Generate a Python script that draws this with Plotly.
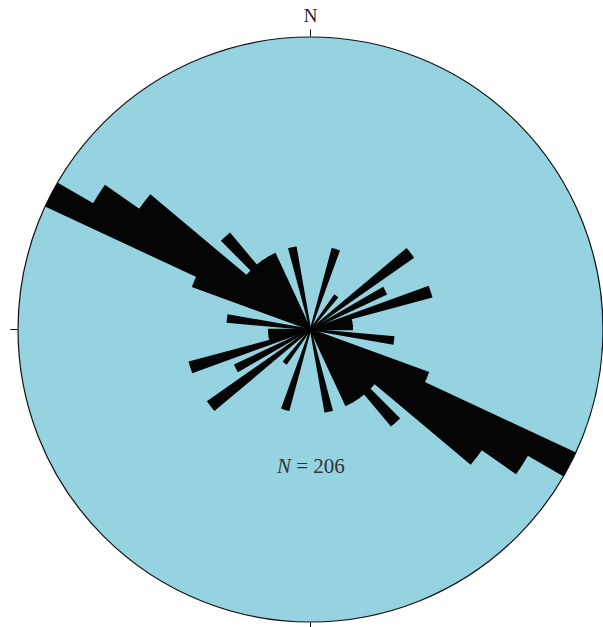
import plotly.graph_objects as go

# Axial rose diagram: 5-degree bins over 0-180, each plotted in both directions
bin_centers = [2.5, 7.5, 12.5, 17.5, 22.5, 27.5, 32.5, 37.5, 42.5, 47.5,
               52.5, 57.5, 62.5, 67.5, 72.5, 77.5, 82.5, 87.5, 92.5, 97.5,
               102.5, 107.5, 112.5, 117.5, 122.5, 127.5, 132.5, 137.5, 142.5, 147.5,
               152.5, 157.5, 162.5, 167.5, 172.5, 177.5]
percent = [0, 0, 0, 2, 0, 0, 0, 1, 0, 0,
           3, 0, 2, 0, 3, 1, 1, 1, 0, 2,
           0, 0, 3, 7, 6, 5, 2, 3, 2, 2,
           2, 0, 0, 2, 0, 0]
n_total = 206
bin_width = 5
r_max = 7

theta = bin_centers + [c + 180 for c in bin_centers]
r = percent + percent

fig = go.Figure()
fig.add_trace(go.Barpolar(
    theta=theta,
    r=r,
    width=[bin_width] * len(theta),
    marker=dict(color="#050505", line=dict(width=1.4, color="#050505")),
    hoverinfo="skip",
))

fig.update_layout(
    width=603,
    height=627,
    margin=dict(l=18, r=0, t=37, b=5),
    paper_bgcolor="white",
    showlegend=False,
    font=dict(family="Liberation Serif", color="#222222"),
    polar=dict(
        bgcolor="#95D3E0",
        bargap=0,
        radialaxis=dict(visible=False, range=[0, r_max]),
        angularaxis=dict(
            rotation=90,
            direction="clockwise",
            tickmode="array",
            tickvals=[0, 90, 180, 270],
            ticktext=["N", "", "", ""],
            ticks="outside",
            ticklen=7,
            tickwidth=1,
            tickcolor="#111111",
            showgrid=False,
            showline=True,
            linecolor="#111111",
            linewidth=1.2,
            tickfont=dict(family="Liberation Serif", size=19, color="#222222"),
        ),
    ),
    annotations=[dict(
        x=0.5, y=0.267, xref="paper", yref="paper",
        text=f"<i>N</i> = {n_total}",
        showarrow=False,
        xanchor="center", yanchor="middle",
        font=dict(family="Liberation Serif", size=21, color="#333333"),
    )],
)

fig.write_html("out.html")
